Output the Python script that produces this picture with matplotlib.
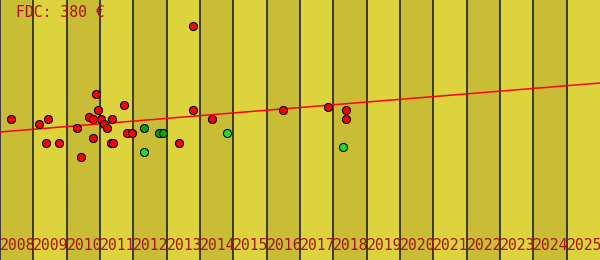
import matplotlib
matplotlib.use("Agg")
import matplotlib.pyplot as plt

# years shown as bands
years = list(range(2008, 2026))

# sales (year, value)
red_years = [2008.34, 2009.18, 2009.45, 2009.39, 2009.78, 2010.32, 2010.44, 2010.89,
             2010.68, 2010.80, 2010.95, 2010.80, 2011.04, 2011.13, 2011.22, 2011.37,
             2011.34, 2011.38, 2011.73, 2011.82, 2011.95, 2013.38, 2013.80, 2014.37,
             2013.80, 2016.50, 2017.85, 2018.39, 2018.39]
red_values = [141, 136, 141, 117, 117, 132, 103, 166,
              143, 141, 150, 122, 141, 136, 132, 141,
              117, 117, 155, 127, 127, 117, 150, 141,
              234, 150, 153, 150, 141]

dark_green_years = [2012.31, 2012.76, 2012.90]
dark_green_values = [132, 127, 127]

light_green_years = [2012.33, 2014.82, 2018.30]
light_green_values = [108, 127, 113]

# trend line ends
trend_years = [2008, 2026]
trend_values = [128, 177]

title = "FDC: 380 €"

fig = plt.figure(figsize=(6, 2.6), dpi=100)
ax = fig.add_axes([0, 0, 1, 1])
ax.set_xlim(2008, 2026)
ax.set_ylim(0, 260)
ax.axis("off")

for i, y in enumerate(years):
    col = "#c9bd35" if i % 2 == 0 else "#ddd33d"
    ax.axvspan(y, y + 1, color=col, lw=0, zorder=0)
    ax.axvline(y, color="#2e2e3a", lw=1.3, zorder=1)
    ax.text(y, 10, str(y), family="DejaVu Sans Mono", fontsize=10.6,
            color="#aa1111", ha="left", va="baseline", zorder=5)

ax.plot(trend_years, trend_values, color="#ff0000", lw=1.1, zorder=2)

mk = dict(marker="o", ls="none", ms=5.8, mec="black", mew=0.8, zorder=3)
ax.plot(red_years, red_values, mfc="#ff0000", **mk)
ax.plot(dark_green_years, dark_green_values, mfc="#11a011", **mk)
ax.plot(light_green_years, light_green_values, mfc="#22dd22", **mk)

fig.text(16 / 600, 1 - 17 / 260, title, family="DejaVu Sans Mono", fontsize=10.6,
         color="#aa1111", ha="left", va="baseline")

fig.savefig("out.png", dpi=100)
